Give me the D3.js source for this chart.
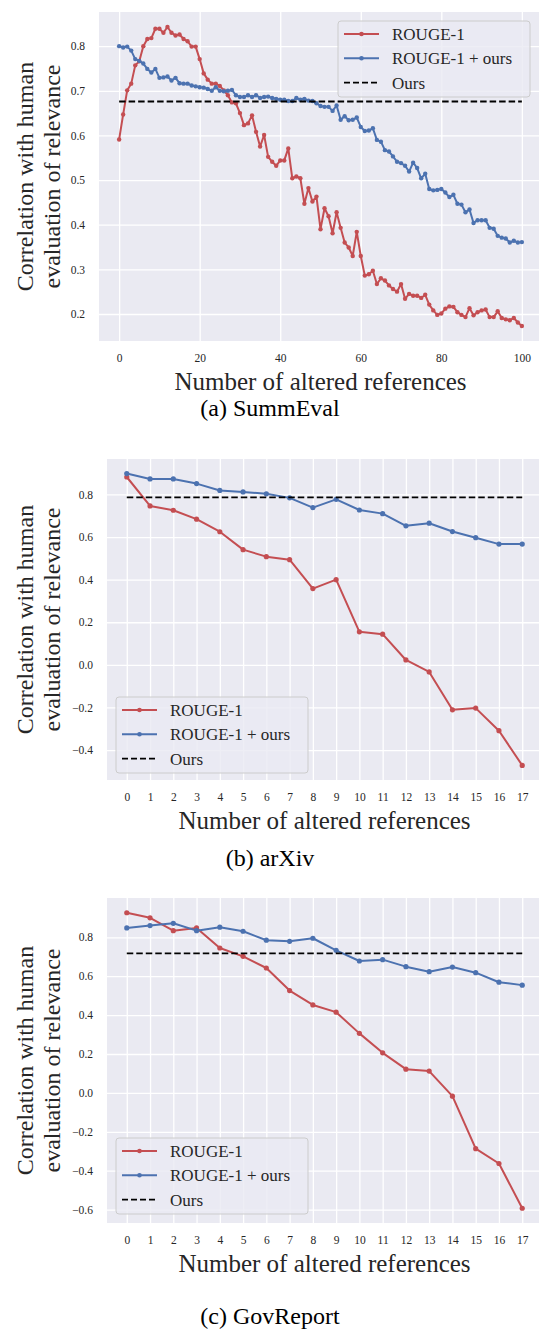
<!DOCTYPE html>
<html>
<head>
<meta charset="utf-8">
<script src="https://cdn.jsdelivr.net/npm/d3@7"></script>
<style>
  body { margin: 0; background: #fff; }
  svg text { font-family: "Liberation Serif", "Times New Roman", serif; fill: #262626; }
  .grid line { stroke: #fff; stroke-width: 1.3; }
  .grid path, .ticks path { display: none; }
</style>
</head>
<body>
<svg id="fig" width="539" height="1336"></svg>
<script>
// values
var legendLabels = ["ROUGE-1", "ROUGE-1 + ours", "Ours"];
var captions = ["(a) SummEval", "(b) arXiv", "(c) GovReport"];
var xLabel = "Number of altered references";
var yLabel = ["Correlation with human", "evaluation of relevance"];

var summRouge = [0.591, 0.647, 0.701, 0.716, 0.757, 0.766, 0.800, 0.816, 0.818, 0.839,
  0.839, 0.830, 0.843, 0.830, 0.824, 0.826, 0.816, 0.811, 0.799, 0.799,
  0.771, 0.739, 0.725, 0.716, 0.716, 0.711, 0.701, 0.690, 0.674, 0.672,
  0.650, 0.623, 0.627, 0.645, 0.608, 0.575, 0.601, 0.552, 0.541, 0.532,
  0.544, 0.544, 0.571, 0.504, 0.508, 0.504, 0.447, 0.482, 0.452, 0.463,
  0.390, 0.437, 0.419, 0.381, 0.428, 0.393, 0.360, 0.349, 0.330, 0.384,
  0.330, 0.286, 0.289, 0.297, 0.267, 0.280, 0.275, 0.264, 0.256, 0.250,
  0.267, 0.234, 0.245, 0.241, 0.241, 0.236, 0.243, 0.221, 0.208, 0.198,
  0.201, 0.212, 0.217, 0.216, 0.204, 0.198, 0.193, 0.213, 0.197, 0.204,
  0.208, 0.210, 0.193, 0.193, 0.206, 0.191, 0.188, 0.186, 0.191, 0.181,
  0.173];
var summCombined = [0.800, 0.797, 0.799, 0.790, 0.771, 0.767, 0.761, 0.749, 0.741, 0.749,
  0.729, 0.730, 0.732, 0.723, 0.729, 0.717, 0.716, 0.716, 0.712, 0.710,
  0.708, 0.707, 0.704, 0.700, 0.708, 0.700, 0.699, 0.700, 0.702, 0.690,
  0.686, 0.686, 0.690, 0.686, 0.690, 0.684, 0.686, 0.687, 0.684, 0.682,
  0.680, 0.680, 0.677, 0.677, 0.684, 0.680, 0.682, 0.678, 0.677, 0.672,
  0.666, 0.664, 0.664, 0.655, 0.667, 0.635, 0.643, 0.634, 0.635, 0.640,
  0.619, 0.610, 0.611, 0.616, 0.590, 0.586, 0.567, 0.564, 0.553, 0.541,
  0.538, 0.532, 0.519, 0.539, 0.527, 0.504, 0.514, 0.480, 0.477, 0.478,
  0.480, 0.472, 0.462, 0.467, 0.447, 0.445, 0.428, 0.434, 0.404, 0.410,
  0.410, 0.410, 0.393, 0.391, 0.375, 0.371, 0.369, 0.360, 0.364, 0.360,
  0.361];
var summOurs = 0.676;
var summXTicks = [0, 20, 40, 60, 80, 100];
var summYTicks = [0.2, 0.3, 0.4, 0.5, 0.6, 0.7, 0.8];

var arxivRouge = [0.882, 0.746, 0.726, 0.684, 0.625, 0.541, 0.508, 0.494, 0.358, 0.400,
  0.155, 0.144, 0.023, -0.033, -0.211, -0.203, -0.309, -0.472];
var arxivCombined = [0.898, 0.873, 0.873, 0.851, 0.819, 0.812, 0.803, 0.784, 0.738, 0.777,
  0.727, 0.710, 0.653, 0.665, 0.626, 0.597, 0.567, 0.567];
var arxivOurs = 0.786;
var arxivYTicks = [-0.4, -0.2, 0.0, 0.2, 0.4, 0.6, 0.8];

var govRouge = [0.926, 0.900, 0.834, 0.848, 0.745, 0.702, 0.642, 0.526, 0.452, 0.415,
  0.306, 0.206, 0.122, 0.112, -0.017, -0.287, -0.363, -0.593];
var govCombined = [0.848, 0.860, 0.872, 0.834, 0.852, 0.831, 0.785, 0.779, 0.795, 0.733,
  0.678, 0.685, 0.649, 0.623, 0.647, 0.618, 0.569, 0.554];
var govOurs = 0.717;
var govYTicks = [-0.6, -0.4, -0.2, 0.0, 0.2, 0.4, 0.6, 0.8];

var refTicks = [0, 1, 2, 3, 4, 5, 6, 7, 8, 9, 10, 11, 12, 13, 14, 15, 16, 17];

var red = "#C44E52", blue = "#4C72B0";
var svg = d3.select("#fig");

var panels = [
  { rouge: summRouge, combined: summCombined, ours: summOurs, xTicks: summXTicks, yTicks: summYTicks,
    left: 99, right: 542, top: 12, bottom: 341, r: 2.2, legend: [338, 21], caption: 416 },
  { rouge: arxivRouge, combined: arxivCombined, ours: arxivOurs, xTicks: refTicks, yTicks: arxivYTicks,
    left: 107, right: 542, top: 459, bottom: 780, r: 2.6, legend: [116, 697], caption: 866 },
  { rouge: govRouge, combined: govCombined, ours: govOurs, xTicks: refTicks, yTicks: govYTicks,
    left: 107, right: 542, top: 898, bottom: 1223, r: 2.6, legend: [116, 1138], caption: 1324 }
];

// matplotlib style 5% margins
function pad (ext) {
  var m = (ext[1] - ext[0]) * 0.05;
  return [ext[0] - m, ext[1] + m];
}

function drawPanel (p, k) {
  var g = svg.append("g");
  var h = p.bottom - p.top;

  var x = d3.scaleLinear()
    .domain(pad([0, p.rouge.length - 1]))
    .range([p.left, p.right]);
  var y = d3.scaleLinear()
    .domain(pad(d3.extent(p.rouge.concat(p.combined, [p.ours]))))
    .range([p.bottom, p.top]);

  g.append("rect")
    .attr("x", p.left)
    .attr("y", p.top)
    .attr("width", p.right - p.left)
    .attr("height", h)
    .attr("fill", "#EAEAF2");

  // white grid
  g.append("g")
    .attr("class", "grid")
    .attr("transform", "translate(0," + p.bottom + ")")
    .call(d3.axisBottom(x).tickValues(p.xTicks).tickSize(-h).tickFormat(""));
  g.append("g")
    .attr("class", "grid")
    .attr("transform", "translate(" + p.left + ",0)")
    .call(d3.axisLeft(y).tickValues(p.yTicks).tickSize(-(p.right - p.left)).tickFormat(""));

  // tick labels
  g.append("g")
    .attr("class", "ticks")
    .attr("transform", "translate(0," + p.bottom + ")")
    .call(d3.axisBottom(x).tickValues(p.xTicks).tickSize(0).tickPadding(13))
    .selectAll("text")
      .style("font-size", "11.5px");
  g.append("g")
    .attr("class", "ticks")
    .attr("transform", "translate(" + p.left + ",0)")
    .call(d3.axisLeft(y).tickValues(p.yTicks).tickSize(0).tickPadding(14).tickFormat(d3.format(".1f")))
    .selectAll("text")
      .style("font-size", "11.5px");

  var line = d3.line()
    .x(function(d, i) { return x(i); })
    .y(function(d) { return y(d); });

  [[p.rouge, red], [p.combined, blue]].forEach(function(s) {
    g.append("path")
      .attr("d", line(s[0]))
      .attr("fill", "none")
      .attr("stroke", s[1])
      .attr("stroke-width", 2)
      .attr("stroke-linejoin", "round");
    g.selectAll(null)
      .data(s[0])
      .enter()
        .append("circle")
        .attr("cx", function(d, i) { return x(i); })
        .attr("cy", function(d) { return y(d); })
        .attr("r", p.r)
        .attr("fill", s[1]);
  });

  g.append("line")
    .attr("x1", x(0))
    .attr("x2", x(p.rouge.length - 1))
    .attr("y1", y(p.ours))
    .attr("y2", y(p.ours))
    .attr("stroke", "#000")
    .attr("stroke-width", 1.8)
    .attr("stroke-dasharray", "6.5,3");

  // legend
  var lg = g.append("g")
    .attr("transform", "translate(" + p.legend[0] + "," + p.legend[1] + ")");
  lg.append("rect")
    .attr("width", 192)
    .attr("height", 76)
    .attr("rx", 3)
    .attr("fill", "#EAEAF2")
    .attr("fill-opacity", 0.8)
    .attr("stroke", "#CCCCCC");
  var styles = [red, blue, "#000"];
  legendLabels.forEach(function(lab, i) {
    var ly = 13 + i * 24.3;
    lg.append("line")
      .attr("x1", 6).attr("x2", 41)
      .attr("y1", ly).attr("y2", ly)
      .attr("stroke", styles[i])
      .attr("stroke-width", i == 2 ? 1.8 : 2)
      .attr("stroke-dasharray", i == 2 ? "6,3" : null);
    if (i < 2) {
      lg.append("circle")
        .attr("cx", 23.5).attr("cy", ly)
        .attr("r", 2.3)
        .attr("fill", styles[i]);
    }
    lg.append("text")
      .attr("x", 54)
      .attr("y", ly)
      .attr("dy", "0.35em")
      .style("font-size", "17px")
      .text(lab);
  });

  // axis titles
  var cx = (p.left + p.right) / 2, cy = (p.top + p.bottom) / 2;
  g.append("text")
    .attr("x", cx)
    .attr("y", p.bottom + 49)
    .style("text-anchor", "middle")
    .style("font-size", "25px")
    .text(xLabel);
  yLabel.forEach(function(t, i) {
    g.append("text")
      .attr("transform", "translate(" + (33 + i * 27) + "," + cy + ") rotate(-90)")
      .style("text-anchor", "middle")
      .style("font-size", "24px")
      .text(t);
  });

  g.append("text")
    .attr("x", 270)
    .attr("y", p.caption)
    .style("text-anchor", "middle")
    .style("font-size", "24px")
    .style("fill", "#000")
    .text(captions[k]);
}

panels.forEach(drawPanel);
</script>
</body>
</html>
